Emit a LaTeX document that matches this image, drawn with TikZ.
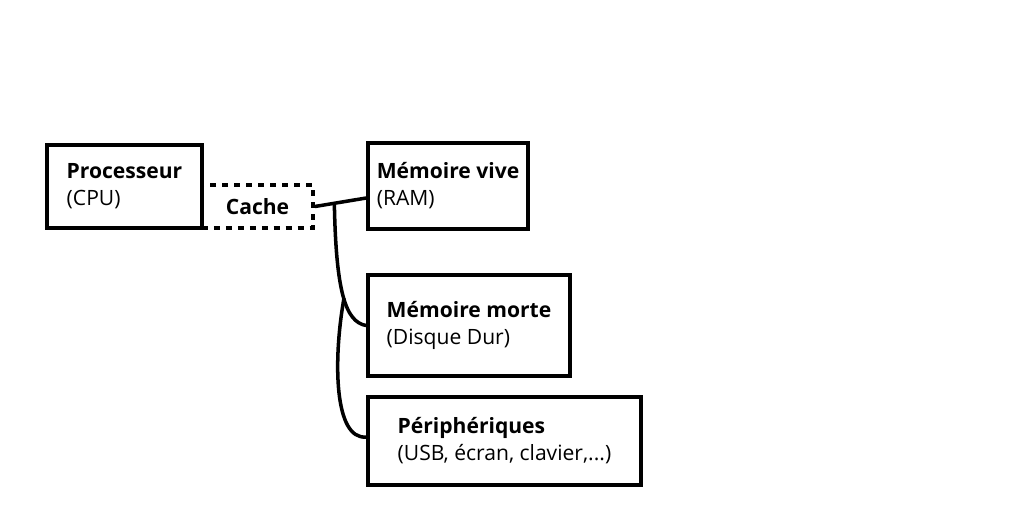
\documentclass[tikz,border=0pt]{standalone}
\usepackage{fontspec}
\setmainfont{Open Sans}
\usepackage{tikz}
\usetikzlibrary{calc}

\tikzset{
  unit/.style={draw, line width=2.1pt, align=left, inner sep=0pt,
    font=\fontsize{12}{15.3}\selectfont},
  cachebox/.style={draw, line width=2.1pt, dash pattern=on 3.4pt off 3.4pt,
    inner sep=0pt, font=\fontsize{12}{15.3}\selectfont\bfseries},
  wire/.style={line width=2pt}
}

\begin{document}
\begin{tikzpicture}[x=0.02cm,y=-0.02cm]
\useasboundingbox (0,0) rectangle (1024,512);
\node[cachebox, minimum width=2.22cm, minimum height=0.86cm] (cache) at (257.5,206.5) {Cache};
\node[unit, fill=white, minimum width=3.1cm, minimum height=1.66cm] (cpu) at (124.5,186.5) {\textbf{Processeur}\\(CPU)};
\node[unit, minimum width=3.2cm, minimum height=1.72cm] (ram) at (448,186) {\textbf{Mémoire vive}\\(RAM)};
\node[unit, minimum width=4.04cm, minimum height=2.02cm] (rom) at (469,325.5) {\textbf{Mémoire morte}\\(Disque Dur)};
\node[unit, minimum width=5.46cm, minimum height=1.76cm] (io) at (504.5,441) {\textbf{Périphériques}\\(USB, écran, clavier,...)};
% bus
\coordinate (ramin) at ($(ram.west)+(0,12)$);
\coordinate (ioin) at ($(io.west)+(0,-4)$);
\draw[wire] (cache.east) -- (ramin);
\coordinate (bus) at ($(cache.east)!0.38!(ramin)$);
\draw[wire] (bus) .. controls (336,290) and (345,322) .. (rom.west);
\coordinate (split) at (344,298);
\draw[wire] (split) .. controls (333,360) and (334,440) .. (ioin);
\end{tikzpicture}
\end{document}
